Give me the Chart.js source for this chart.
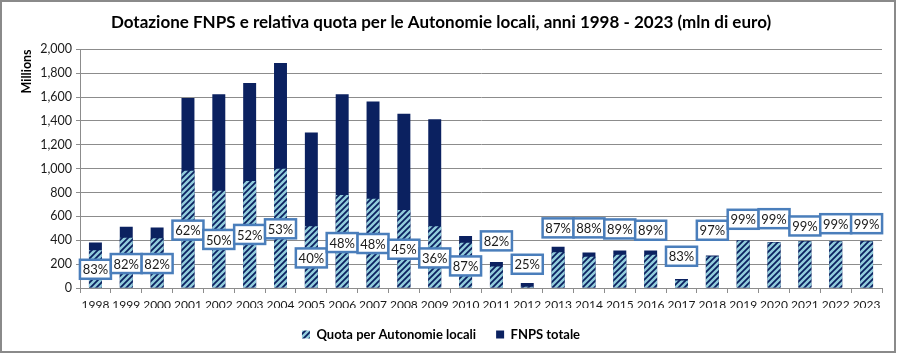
<!DOCTYPE html>
<html>
<head>
<meta charset="utf-8">
<script src="https://cdn.jsdelivr.net/npm/chart.js@4"></script>
<style>
  html, body { margin: 0; padding: 0; background: #ffffff; }
  #wrap { width: 897px; height: 355px; position: relative; }
</style>
</head>
<body>
<div id="wrap"><canvas id="c" width="897" height="355"></canvas></div>
<script>
// ---- data ----
const categories = ['1998','1999','2000','2001','2002','2003','2004','2005','2006','2007','2008','2009','2010','2011','2012','2013','2014','2015','2016','2017','2018','2019','2020','2021','2022','2023'];
const fnpsTotale = [381, 513, 508, 1592, 1625, 1718, 1886, 1303, 1625, 1563, 1460, 1415, 435, 218, 42, 345, 297, 314, 314, 76, 272, 400, 385, 393, 393, 393];
const quotaAutonomie = [317, 421, 417, 983, 815, 897, 1000, 518, 779, 748, 653, 518, 380, 180, 11, 300, 261, 279, 279, 63, 264, 396, 381, 389, 389, 389];
const percentLabels = ['83%','82%','82%','62%','50%','52%','53%','40%','48%','48%','45%','36%','87%','82%','25%','87%','88%','89%','89%','83%','97%','99%','99%','99%','99%','99%'];
const yTicks = [0, 200, 400, 600, 800, 1000, 1200, 1400, 1600, 1800, 2000];

// ---- layout config for the percentage call-outs (y anchor in data units) ----
const labelAnchor = [157, 205, 205, 485, 407, 449, 496, 252, 381, 373, 325, 252, 185, 395, 199, 504, 504, 495, 484, 266, 484, 576, 581, 520, 539, 539];

const NAVY = '#0b2160';
const LIGHT = '#92cddc';
const FONT = 'Lato, "Open Sans", sans-serif';

function makeHatch() {
  const s = 6;
  const c = document.createElement('canvas');
  c.width = s; c.height = s;
  const g = c.getContext('2d');
  g.fillStyle = LIGHT;
  g.fillRect(0, 0, s, s);
  g.strokeStyle = NAVY;
  g.lineWidth = 1.8;
  g.beginPath();
  g.moveTo(-1, s + 1); g.lineTo(s + 1, -1);
  g.moveTo(-1, 1); g.lineTo(1, -1);
  g.moveTo(s - 1, s + 1); g.lineTo(s + 1, s - 1);
  g.stroke();
  return g.createPattern(c, 'repeat');
}
const hatch = makeHatch();

const borderPlugin = {
  id: 'outerBorder',
  beforeDraw(chart) {
    const ctx = chart.ctx;
    ctx.save();
    ctx.fillStyle = '#ffffff';
    ctx.fillRect(0, 0, chart.width, chart.height);
    ctx.strokeStyle = '#8a8a8a';
    ctx.lineWidth = 2;
    ctx.strokeRect(1, 1, 894, 351);
    ctx.restore();
  }
};

const calloutPlugin = {
  id: 'callouts',
  afterDatasetsDraw(chart, args, opts) {
    const ctx = chart.ctx;
    const meta = chart.getDatasetMeta(0);
    const ys = chart.scales.y;
    ctx.save();
    ctx.font = '13px ' + FONT;
    ctx.textAlign = 'center';
    ctx.textBaseline = 'middle';
    meta.data.forEach((bar, i) => {
      const cx = bar.x;
      const cy = ys.getPixelForValue(opts.anchor[i]);
      const w = 31, h = 19;
      ctx.fillStyle = '#ffffff';
      ctx.fillRect(cx - w / 2, cy - h / 2, w, h);
      ctx.strokeStyle = '#4a7ebb';
      ctx.lineWidth = 2.5;
      ctx.strokeRect(cx - w / 2, cy - h / 2, w, h);
      ctx.fillStyle = '#1a1a1a';
      ctx.fillText(opts.labels[i], cx, cy + 1);
    });
    ctx.restore();
  }
};

new Chart(document.getElementById('c'), {
  type: 'bar',
  data: {
    labels: categories,
    datasets: [
      {
        label: 'Quota per Autonomie locali',
        data: quotaAutonomie,
        backgroundColor: hatch,
        borderWidth: 0,
        grouped: false,
        order: 0,
        categoryPercentage: 1,
        barPercentage: 0.42
      },
      {
        label: 'FNPS totale',
        data: fnpsTotale,
        backgroundColor: NAVY,
        borderWidth: 0,
        grouped: false,
        order: 1,
        categoryPercentage: 1,
        barPercentage: 0.42
      }
    ]
  },
  options: {
    responsive: false,
    animation: false,
    devicePixelRatio: 1,
    layout: { padding: { left: 0, right: 15, top: 0, bottom: 4 } },
    plugins: {
      tooltip: { enabled: false },
      title: {
        display: true,
        text: 'Dotazione FNPS e relativa quota per le Autonomie locali, anni 1998 - 2023 (mln di euro)',
        color: '#000000',
        font: { family: FONT, size: 17, weight: 'bold' },
        padding: { top: 12, bottom: 17 }
      },
      legend: {
        position: 'bottom',
        labels: {
          color: '#000000',
          font: { family: FONT, size: 13, weight: 'bold' },
          boxWidth: 8,
          boxHeight: 8,
          padding: 20
        }
      },
      callouts: { anchor: labelAnchor, labels: percentLabels }
    },
    scales: {
      x: {
        ticks: { color: '#1a1a1a', font: { family: FONT, size: 12 }, padding: 5, maxRotation: 0, autoSkip: false },
        grid: { display: true, drawOnChartArea: false, drawTicks: true, tickLength: 5, color: '#8c8c8c', offset: true },
        border: { display: true, color: '#8c8c8c' },
        afterFit(s) { s.height = 20; }
      },
      y: {
        min: 0,
        max: 2000,
        afterBuildTicks(s) { s.ticks = yTicks.map(v => ({ value: v })); },
        ticks: {
          color: '#1a1a1a',
          font: { family: FONT, size: 12.5 },
          padding: 4,
          callback: v => v.toLocaleString('en-US')
        },
        grid: { color: '#8c8c8c', drawTicks: true, tickLength: 4 },
        border: { display: true, color: '#8c8c8c' },
        title: {
          display: true,
          text: 'Millions',
          align: 'end',
          color: '#000000',
          font: { family: FONT, size: 12.5, weight: 'bold' },
          padding: { top: 19, bottom: 0 }
        },
        afterFit(s) { s.width = 80; }
      }
    }
  },
  plugins: [borderPlugin, calloutPlugin]
});
</script>
</body>
</html>
